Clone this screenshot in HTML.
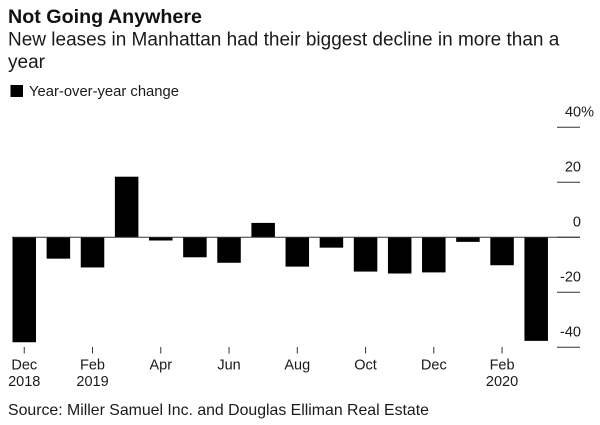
<!DOCTYPE html>
<html>
<head>
<meta charset="utf-8">
<style>
html,body{margin:0;padding:0;background:#fff;}
body{width:600px;height:425px;overflow:hidden;}
svg{display:block;font-family:"Liberation Sans",Arial,sans-serif;fill:#1a1a1a;}
</style>
</head>
<body>
<svg id="chart" width="600" height="425" viewBox="0 0 600 425" xmlns="http://www.w3.org/2000/svg">
  <text x="8" y="23" font-size="19.7" font-weight="700" fill="#111">Not Going Anywhere</text>
  <text x="8" y="45.5" font-size="19">New leases in Manhattan had their biggest decline in more than a</text>
  <text x="8" y="68" font-size="19">year</text>
  <rect x="10.5" y="85" width="12.5" height="12" fill="#000"></rect>
  <text x="29" y="96" font-size="14.8">Year-over-year change</text>
  <g id="bars"></g>
  <g id="y-axis"></g>
  <g id="x-axis"></g>
  <text x="8" y="415" font-size="15.85">Source: Miller Samuel Inc. and Douglas Elliman Real Estate</text>
</svg>
<script>
const categories = ["Dec 2018","Jan 2019","Feb 2019","Mar 2019","Apr 2019","May 2019","Jun 2019","Jul 2019","Aug 2019","Sep 2019","Oct 2019","Nov 2019","Dec 2019","Jan 2020","Feb 2020","Mar 2020"];
const values = [-38.2,-7.8,-11,22,-1.2,-7.3,-9.3,5.2,-10.7,-3.8,-12.5,-13.2,-12.8,-1.7,-10.2,-37.7];
const yTicks = [40,20,0,-20,-40];
const yTickLabels = ["40%","20","0","-20","-40"];
const xTickIndexes = [0,2,4,6,8,10,12,14];
const xTickLabels = [["Dec","2018"],["Feb","2019"],["Apr"],["Jun"],["Aug"],["Oct"],["Dec"],["Feb","2020"]];

const NS = "http://www.w3.org/2000/svg";
const yScale = v => 237.2 - v * 2.75;
const xStart = 12.5, xStep = 34.13, barWidth = 23.5;
const xScale = i => xStart + i * xStep;

function make(tag, attrs, parent) {
  const el = document.createElementNS(NS, tag);
  for (const k in attrs) el.setAttribute(k, attrs[k]);
  parent.appendChild(el);
  return el;
}

const barsG = document.getElementById("bars");
const yG = document.getElementById("y-axis");
const xG = document.getElementById("x-axis");

const zero = make("line", {x1: 12, x2: 580, y1: yScale(0), y2: yScale(0), stroke: "#333", "stroke-width": 1}, yG);



values.forEach((v, i) => {
  const top = Math.min(yScale(0), yScale(v));
  const h = Math.abs(yScale(v) - yScale(0));
  const bar = make("rect", {x: xScale(i), y: top, width: barWidth, height: h, fill: "#000"}, barsG);
  
  
  const title = make("title", {}, bar);
  title.textContent = categories[i] + ": " + v + "%";
});

yTicks.forEach((t, i) => {
  const y = yScale(t);
  const tick = make("line", {x1: 557, x2: 580, y1: y, y2: y, stroke: "#333", "stroke-width": 1}, yG);
  
  
  const hasUnit = yTickLabels[i].endsWith("%");
  const label = make("text", {x: hasUnit ? 594 : 581, y: y - 10.5, "font-size": 14.5, "text-anchor": "end"}, yG);
  label.textContent = yTickLabels[i];
  
  
});

xTickIndexes.forEach((idx, i) => {
  const cx = xScale(idx) + barWidth / 2;
  const tick = make("line", {x1: cx, x2: cx, y1: 347, y2: 353.5, stroke: "#333", "stroke-width": 1}, xG);
  
  
  xTickLabels[i].forEach((line, j) => {
    const label = make("text", {x: cx, y: 369.5 + j * 16.3, "font-size": 14.5, "text-anchor": "middle"}, xG);
    label.textContent = line;
    
    
  });
});
</script>
</body>
</html>
